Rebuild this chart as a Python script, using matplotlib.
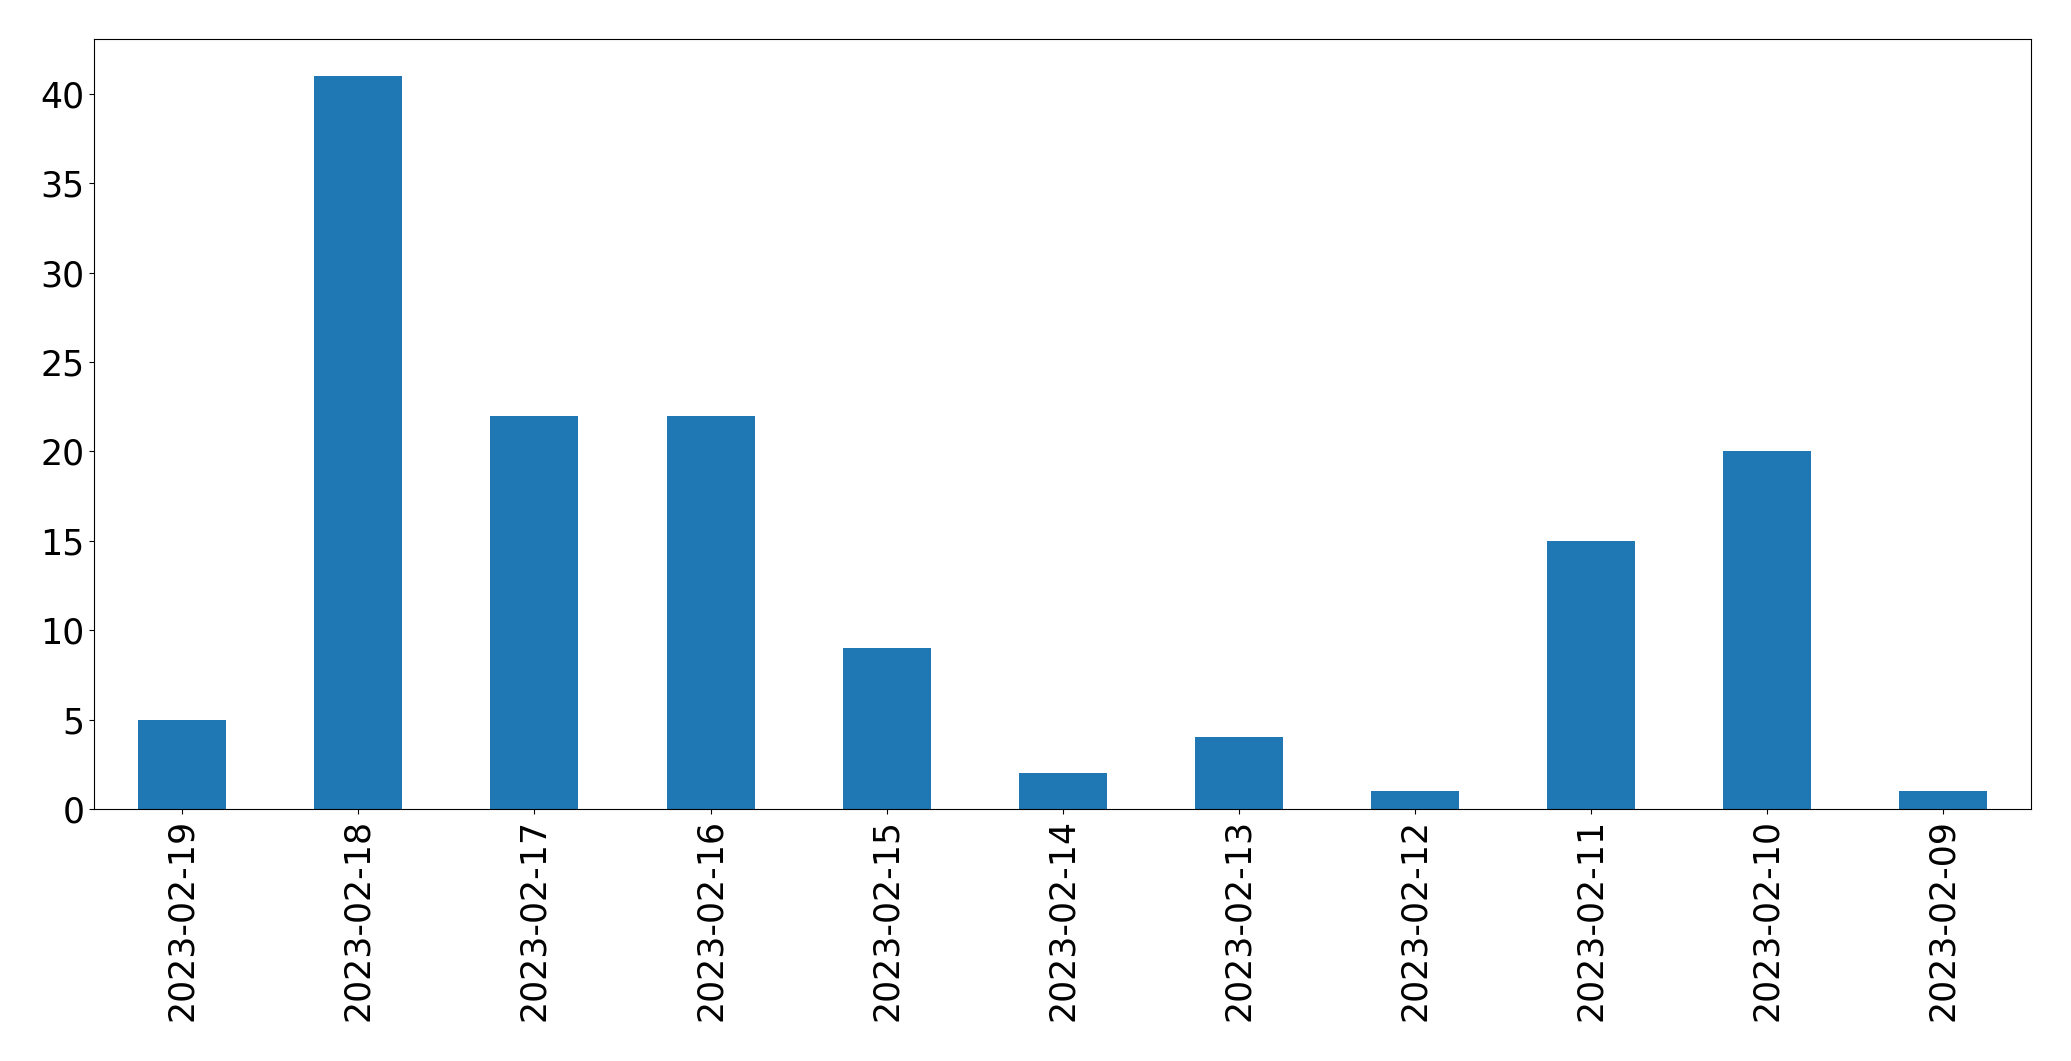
import matplotlib
matplotlib.use("Agg")
import matplotlib.pyplot as plt
import numpy as np

dates = ["2023-02-19", "2023-02-18", "2023-02-17", "2023-02-16", "2023-02-15",
         "2023-02-14", "2023-02-13", "2023-02-12", "2023-02-11", "2023-02-10",
         "2023-02-09"]
counts = [5, 41, 22, 22, 9, 2, 4, 1, 15, 20, 1]

fig, ax = plt.subplots(figsize=(20.71, 10.61), dpi=100)
fig.subplots_adjust(left=94.3 / 2071, right=2031 / 2071,
                    top=1 - 39.3 / 1061, bottom=1 - 809 / 1061)

x = np.arange(len(dates))
ax.bar(x, counts, width=0.5, color="#1f77b4")
ax.set_xlim(-0.5, len(dates) - 0.5)
ax.set_ylim(0, max(counts) * 1.05)
ax.set_xticks(x)
ax.set_xticklabels(dates, rotation=90)
ax.tick_params(labelsize=25)

fig.savefig("out.png", dpi=100)
